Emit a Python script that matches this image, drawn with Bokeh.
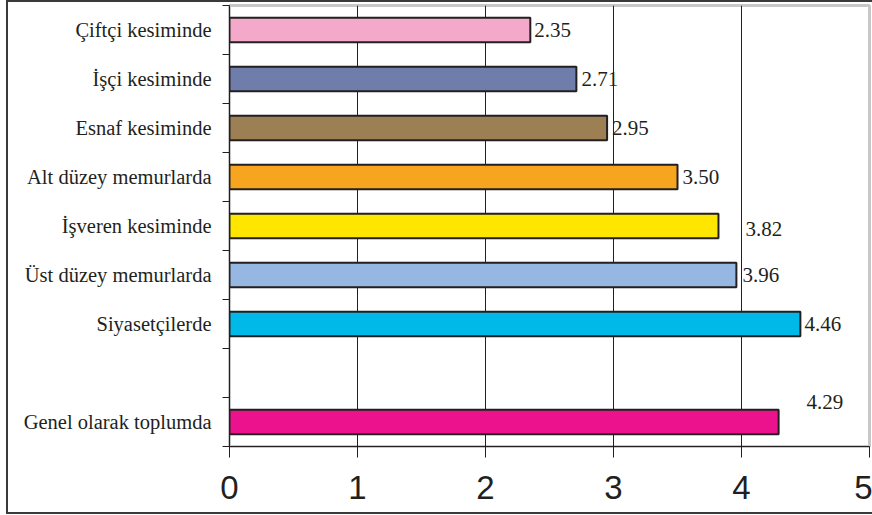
from bokeh.plotting import figure
from bokeh.models import ColumnDataSource, FixedTicker
from bokeh.core.properties import value
from bokeh.embed import file_html
from bokeh.resources import INLINE

# ---- data (top to bottom as in the chart; "" is the empty gap row) ----
categories = ["Çiftçi kesiminde", "İşçi kesiminde", "Esnaf kesiminde",
              "Alt düzey memurlarda", "İşveren kesiminde", "Üst düzey memurlarda",
              "Siyasetçilerde", "", "Genel olarak toplumda"]
values = [2.35, 2.71, 2.95, 3.50, 3.82, 3.96, 4.46, None, 4.29]
colors = ["#F5A9CA", "#6E7DA9", "#9C8054", "#F7A41E", "#FFE600",
          "#96B7E1", "#00B9E8", None, "#EC118D"]
x_ticks = [0, 1, 2, 3, 4, 5]

# label placement styling (pixel offsets, as drawn in the reference)
label_dx = [4, 5, 5, 5, 27, 6, 4, None, 28]
label_dy = [0, 0, 0, 0, 3, 0, 0, None, -20]

n = len(categories)
rows = [i for i in range(n) if values[i] is not None]
ys = [n - i - 0.5 for i in rows]

src = ColumnDataSource(dict(
    y=ys,
    value=[values[i] for i in rows],
    color=[colors[i] for i in rows],
    label=["%.2f" % values[i] for i in rows],
    dx=[label_dx[i] for i in rows],
    dy=[label_dy[i] for i in rows],
))

SERIF = "Liberation Serif"
INK = "#231f20"

p = figure(width=866, height=514, x_range=(0, 5), y_range=(0, n),
           output_backend="svg", toolbar_location=None,
           min_border_left=223, min_border_right=3, min_border_top=5,
           min_border_bottom=68)
p.border_fill_color = None
p.styles = {"margin-left": "6px",
            "box-shadow": "inset 2px 2px 0 #3a3a3a, inset 0 -2px 0 #3a3a3a"}

p.outline_line_color = "#c8c8c8"
p.outline_line_width = 3

p.hbar(y="y", right="value", left=0, height=0.5, fill_color="color",
       line_color=INK, line_width=2, source=src)

p.text(x="value", y="y", text="label", x_offset="dx", y_offset="dy",
       text_font=value(SERIF), text_font_size="21px",
       text_baseline="middle", text_align="left", text_color=INK,
       source=src)

# grids
p.ygrid.visible = False
p.xgrid.ticker = FixedTicker(ticks=x_ticks[1:-1])
p.xgrid.grid_line_color = INK
p.xgrid.grid_line_width = 1

# x axis
xa = p.xaxis[0]
xa.ticker = FixedTicker(ticks=x_ticks)
xa.axis_line_color = INK
xa.major_tick_line_color = INK
xa.major_tick_out = 11
xa.major_tick_in = 0
xa.minor_tick_line_color = None
xa.major_label_standoff = 18
xa.major_label_text_font = "Liberation Sans"
xa.major_label_text_font_size = "33px"
xa.major_label_text_color = INK

# y axis: labels at row centres, tick marks at row boundaries
ya = p.yaxis[0]
ya.ticker = FixedTicker(ticks=[n - i - 0.5 for i in range(n)],
                        minor_ticks=list(range(n + 1)))
ya.major_label_overrides = {n - i - 0.5: categories[i] for i in range(n)}
ya.axis_line_color = INK
ya.major_tick_line_color = None
ya.major_tick_out = 0
ya.major_tick_in = 0
ya.minor_tick_line_color = INK
ya.minor_tick_out = 7
ya.minor_tick_in = 0
ya.major_label_standoff = 11
ya.major_label_text_font = SERIF
ya.major_label_text_font_size = "20.5px"
ya.major_label_text_color = INK

open("out.html", "w").write(file_html(p, INLINE))
